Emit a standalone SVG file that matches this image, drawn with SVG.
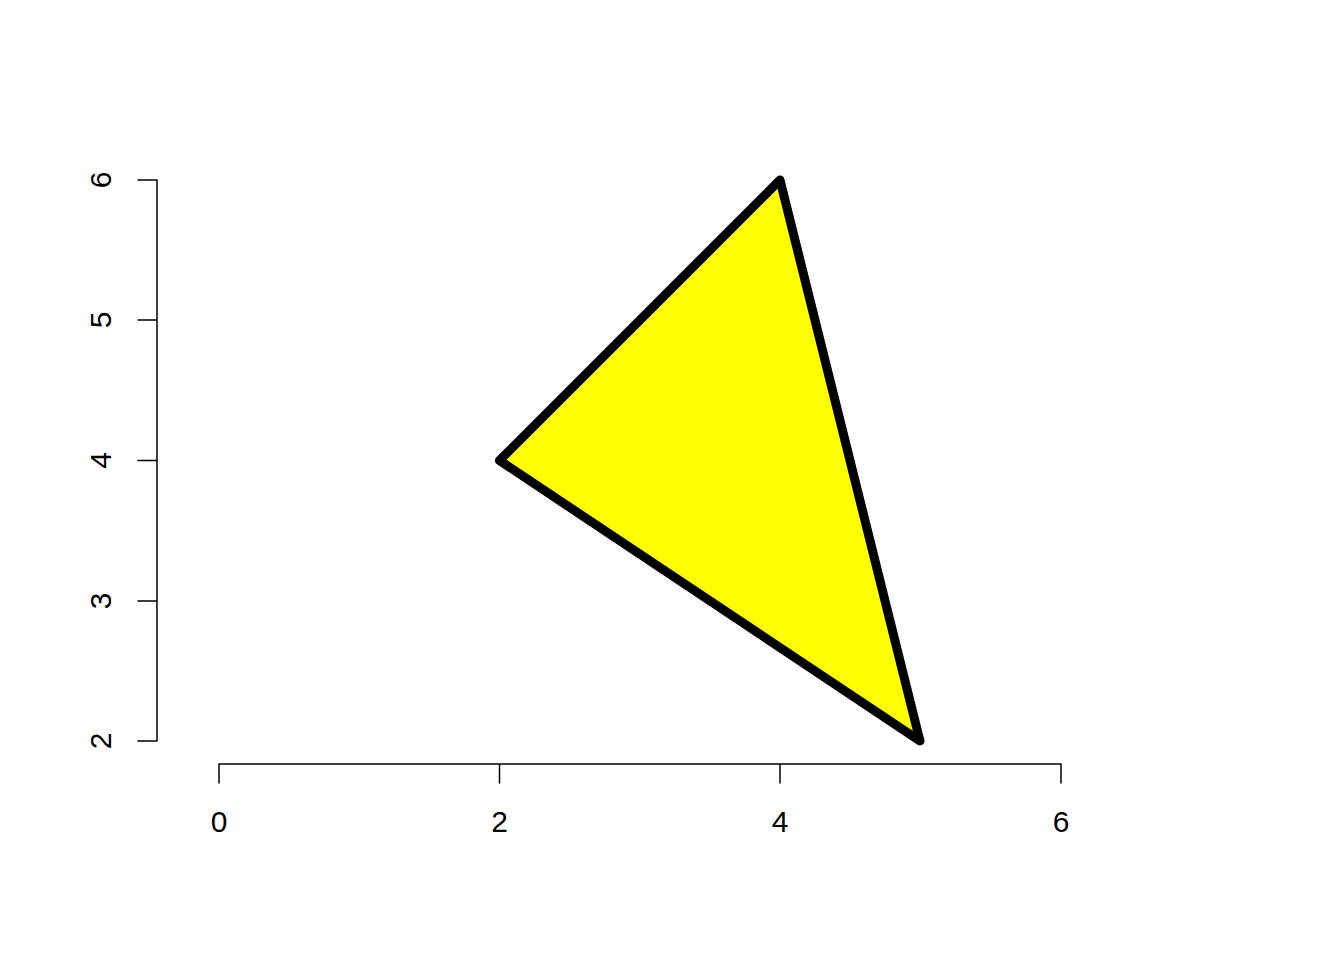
<svg xmlns="http://www.w3.org/2000/svg" width="1344" height="960" viewBox="0 0 1344 960">
<style>
.ax{stroke:#000;stroke-width:1.5;fill:none;stroke-linecap:round}
.lb{font-family:"Liberation Sans",Arial,sans-serif;font-size:30px;fill:#000;text-anchor:middle}
</style>
<rect width="1344" height="960" fill="#fff"/>
<g id="x-axis">
<path class="ax" d="M219,764H1061M219,764V783M499.5,764V783M780,764V783M1061,764V783"/>
<text class="lb" x="219" y="832">0</text>
<text class="lb" x="499.5" y="832">2</text>
<text class="lb" x="780" y="832">4</text>
<text class="lb" x="1061" y="832">6</text>
</g>
<g id="y-axis">
<path class="ax" d="M157,741V180M157,741H138M157,601H138M157,460.5H138M157,320H138M157,180H138"/>
<text class="lb" transform="translate(111,741) rotate(-90)">2</text>
<text class="lb" transform="translate(111,601) rotate(-90)">3</text>
<text class="lb" transform="translate(111,460.5) rotate(-90)">4</text>
<text class="lb" transform="translate(111,320) rotate(-90)">5</text>
<text class="lb" transform="translate(111,180) rotate(-90)">6</text>
</g>
<g id="triangle">
<polygon points="499.5,460.5 780,180 920,741" fill="#ffff00" stroke="#000" stroke-width="9" stroke-linejoin="round"/>
</g>
</svg>
